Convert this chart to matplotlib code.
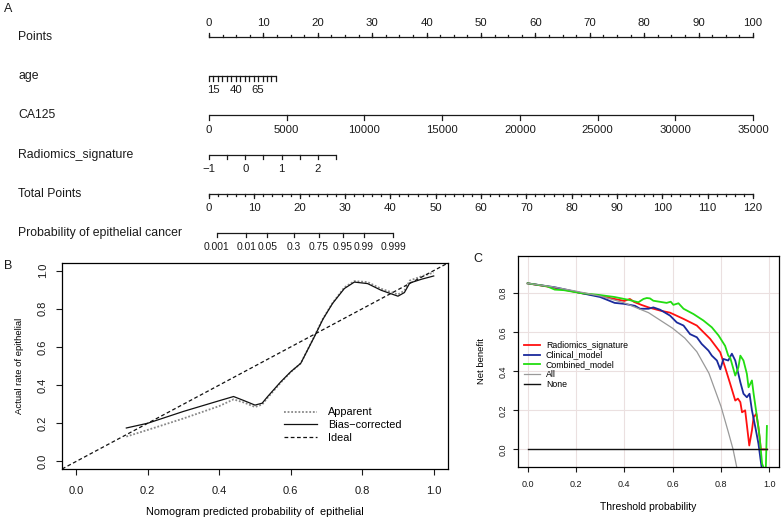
import numpy as np
import matplotlib.pyplot as plt

plt.rcParams['font.family'] = ['Liberation Sans', 'DejaVu Sans']

# ---------------- panel A : nomogram ----------------
row_names = ['Points', 'age', 'CA125', 'Radiomics_signature', 'Total Points',
             'Probability of epithelial cancer']

points_major = list(range(0, 101, 10))
points_minor = list(np.arange(0, 100.1, 2.5))
age_ticks = list(range(10, 86, 5))
age_labels = [15, 40, 65]
ca125_ticks = list(range(0, 35001, 5000))
rad_ticks = [-1, -0.5, 0, 0.5, 1, 1.5, 2, 2.5]
rad_labels = [-1, 0, 1, 2]
total_major = list(range(0, 121, 10))
total_minor = list(range(0, 121, 2))
prob_ticks = [0.001, 0.01, 0.05, 0.3, 0.75, 0.95, 0.99, 0.999]
prob_labels = ['0.001', '0.01', '0.05', '0.3', '0.75', '0.95', '0.99', '0.999']

# points per unit of each predictor
age_min, age_pts = 10, 0.164
ca125_pts = 100 / 35000
rad_min, rad_pts = -1, 6.67
total_scale = 100 / 120
lp_a, lp_b = -7.51, 0.355  # logit(p) = a + b * total points

# ---------------- panel B : calibration ----------------
cal_x = [0.14, 0.20, 0.30, 0.40, 0.44, 0.47, 0.50, 0.52, 0.535, 0.572, 0.60, 0.628,
         0.666, 0.69, 0.717, 0.75, 0.778, 0.815, 0.853, 0.90, 0.918, 0.933, 0.966, 1.0]
cal_bias = [0.175, 0.20, 0.262, 0.318, 0.34, 0.318, 0.295, 0.305, 0.339, 0.417, 0.47, 0.514,
            0.653, 0.745, 0.828, 0.906, 0.94, 0.932, 0.897, 0.866, 0.885, 0.935, 0.955, 0.972]
cal_app = [0.13, 0.165, 0.225, 0.29, 0.325, 0.308, 0.285, 0.298, 0.333, 0.413, 0.468, 0.514,
           0.655, 0.748, 0.83, 0.912, 0.945, 0.94, 0.905, 0.875, 0.895, 0.948, 0.97, 0.99]

# ---------------- panel C : decision curve ----------------
rad_x = [0, 0.10, 0.222, 0.30, 0.36, 0.40, 0.423, 0.44, 0.47, 0.50, 0.55, 0.589, 0.645, 0.70,
         0.755, 0.797, 0.817, 0.838, 0.859, 0.87, 0.88, 0.887, 0.90, 0.917, 0.928, 0.935,
         0.946, 0.955, 0.965, 0.99]
rad_y = [0.85, 0.83, 0.80, 0.785, 0.77, 0.76, 0.77, 0.755, 0.74, 0.727, 0.71, 0.70, 0.668, 0.634,
         0.566, 0.497, 0.42, 0.336, 0.25, 0.26, 0.242, 0.19, 0.20, 0.02, 0.097, 0.165,
         0.182, 0.114, 0.0, 0.0]
cli_x = [0, 0.112, 0.15, 0.222, 0.30, 0.36, 0.40, 0.444, 0.465, 0.50, 0.52, 0.548, 0.589, 0.617,
         0.645, 0.672, 0.70, 0.72, 0.748, 0.762, 0.783, 0.797, 0.81, 0.83, 0.845, 0.859, 0.88,
         0.893, 0.907, 0.918, 0.928, 0.942, 0.955, 0.966, 0.975]
cli_y = [0.85, 0.83, 0.82, 0.80, 0.78, 0.75, 0.745, 0.735, 0.72, 0.72, 0.727, 0.715, 0.685, 0.65,
         0.634, 0.59, 0.574, 0.54, 0.506, 0.48, 0.455, 0.41, 0.463, 0.455, 0.49, 0.455, 0.344,
         0.285, 0.267, 0.285, 0.20, 0.114, 0.029, -0.073, -0.15]
com_x = [0, 0.08, 0.112, 0.15, 0.222, 0.30, 0.36, 0.42, 0.458, 0.479, 0.493, 0.506, 0.52, 0.575,
         0.592, 0.603, 0.624, 0.645, 0.686, 0.727, 0.762, 0.79, 0.817, 0.83, 0.838, 0.859, 0.872,
         0.88, 0.893, 0.907, 0.914, 0.928, 0.935, 0.949, 0.96, 0.97, 0.985, 0.99]
com_y = [0.85, 0.835, 0.818, 0.815, 0.80, 0.79, 0.78, 0.765, 0.753, 0.77, 0.775, 0.773, 0.761, 0.75,
         0.756, 0.74, 0.748, 0.72, 0.693, 0.66, 0.625, 0.583, 0.53, 0.48, 0.47, 0.378, 0.42,
         0.48, 0.455, 0.387, 0.318, 0.353, 0.285, 0.165, 0.063, -0.073, -0.12, 0.12]
all_x = [0, 0.1, 0.2, 0.3, 0.4, 0.5, 0.6, 0.65, 0.7, 0.75, 0.8, 0.83, 0.85, 0.87]
all_y = [0.85, 0.833, 0.81, 0.785, 0.75, 0.70, 0.62, 0.57, 0.50, 0.39, 0.22, 0.09, 0.0, -0.12]
none_x = [0, 0.99]
none_y = [0, 0]

W, H = 781, 518
fig = plt.figure(figsize=(W / 100, H / 100), dpi=100)
ink = '#1a1a1a'

# ---------------- A ----------------
ax = fig.add_axes([209 / W, 1 - 252.6 / H, 544 / W, 235.2 / H])
ax.set_xlim(0, 100)
ax.set_ylim(5.5, -0.5)
ax.axis('off')
lab_tr = ax.get_yaxis_transform()


def scale(row, major, labels, minor=(), up=False, lw=0.9, fs=8.2):
    d = -1 if up else 1
    ax.plot([min(major + list(minor)), max(major + list(minor))], [row, row],
            color=ink, lw=lw, clip_on=False, solid_capstyle='butt')
    for x in major:
        ax.plot([x, x], [row, row + d * 0.11], color=ink, lw=lw, clip_on=False)
    for x in minor:
        ax.plot([x, x], [row, row + d * 0.05], color=ink, lw=lw, clip_on=False)
    for x, s in labels:
        ax.text(x, row + d * 0.36, s, ha='center', va='center', fontsize=fs,
                color=ink, clip_on=False)


for i, name in enumerate(row_names):
    ax.text(-0.351, i, name, transform=lab_tr, ha='left', va='center',
            fontsize=8.8, color=ink)

scale(0, points_major, [(p, str(p)) for p in points_major], points_minor, up=True)
age_pos = [(a - age_min) * age_pts for a in age_ticks]
scale(1, age_pos, [((a - age_min) * age_pts, str(a)) for a in age_labels])
ca_pos = [c * ca125_pts for c in ca125_ticks]
scale(2, ca_pos, [(c * ca125_pts, str(c)) for c in ca125_ticks])
rad_pos = [(r - rad_min) * rad_pts for r in rad_ticks]
scale(3, rad_pos, [((r - rad_min) * rad_pts, '\u22121' if r < 0 else str(r)) for r in rad_labels])
scale(4, [t * total_scale for t in total_major],
      [(t * total_scale, str(t)) for t in total_major],
      [t * total_scale for t in total_minor])
prob_pos = [(np.log(p / (1 - p)) - lp_a) / lp_b * total_scale for p in prob_ticks]
scale(5, prob_pos, list(zip(prob_pos, prob_labels)), fs=7.4)

fig.text(8 / W, 1 - 9 / H, 'A', fontsize=9, ha='center', va='center', color=ink)

# ---------------- B ----------------
axb = fig.add_axes([62 / W, 1 - 469 / H, 386 / W, 206 / H])
axb.plot(cal_x, cal_app, color='#888888', lw=1.3, ls=(0, (1, 1)), label='Apparent')
axb.plot(cal_x, cal_bias, color='#111111', lw=0.9, label='Bias\u2212corrected')
axb.axline((0, 0), slope=1, color='#111111', lw=0.9, ls=(0, (3, 2)), label='Ideal')
axb.set_xlim(-0.04, 1.04)
axb.set_ylim(-0.04, 1.04)
axb.set_xticks(np.arange(0, 1.01, 0.2))
axb.set_yticks(np.arange(0, 1.01, 0.2))
axb.set_xticklabels([f'{v:.1f}' for v in np.arange(0, 1.01, 0.2)])
axb.set_yticklabels([f'{v:.1f}' for v in np.arange(0, 1.01, 0.2)], rotation=90, va='center')
axb.tick_params(direction='out', length=4, width=0.8, labelsize=8, pad=8, colors=ink)
axb.tick_params(axis='y', pad=6)
for s in axb.spines.values():
    s.set_linewidth(0.9)
axb.set_xlabel('Nomogram predicted probability of  epithelial', fontsize=7.8, labelpad=8)
axb.set_ylabel('Actual rate of epithelial', fontsize=6.8, labelpad=10)
axb.legend(loc='upper left', bbox_to_anchor=(0.565, 0.32), frameon=False, fontsize=7.8,
           handlelength=3.0, handletextpad=1.0, labelspacing=0.25, borderaxespad=0)
fig.text(8 / W, 1 - 266 / H, 'B', fontsize=9, ha='center', va='center', color=ink)

# ---------------- C ----------------
axc = fig.add_axes([518 / W, 1 - 467 / H, 261 / W, 211 / H])
axc.plot(rad_x, rad_y, color='#ff1010', lw=1.3, label='Radiomics_signature')
axc.plot(cli_x, cli_y, color='#1a2a9c', lw=1.3, label='Clinical_model')
axc.plot(com_x, com_y, color='#22dd11', lw=1.3, label='Combined_model')
axc.plot(all_x, all_y, color='#999999', lw=0.9, label='All')
axc.plot(none_x, none_y, color='#111111', lw=1.0, label='None')
axc.set_xlim(-0.04, 1.04)
axc.set_ylim(-0.09, 0.99)
axc.set_xticks(np.arange(0, 1.01, 0.2))
axc.set_yticks(np.arange(0, 0.81, 0.2))
axc.set_xticklabels([f'{v:.1f}' for v in np.arange(0, 1.01, 0.2)])
axc.set_yticklabels([f'{v:.1f}' for v in np.arange(0, 0.81, 0.2)], rotation=90, va='center')
axc.grid(color='#ebe0e0', lw=0.8)
axc.set_axisbelow(True)
axc.tick_params(direction='out', length=3.5, width=0.8, labelsize=6.5, pad=6, colors=ink)
axc.tick_params(axis='y', pad=4)
for s in axc.spines.values():
    s.set_linewidth(0.9)
axc.set_xlabel('Threshold probability', fontsize=7.5, labelpad=9)
axc.set_ylabel('Net benefit', fontsize=6.8, labelpad=9)
axc.legend(loc='upper left', bbox_to_anchor=(0.01, 0.615), frameon=False, fontsize=6.3,
           handlelength=1.8, handletextpad=0.7, labelspacing=0.1, borderaxespad=0)
fig.text(478 / W, 1 - 259 / H, 'C', fontsize=9, ha='center', va='center', color=ink)

fig.savefig('out.png', dpi=100)
